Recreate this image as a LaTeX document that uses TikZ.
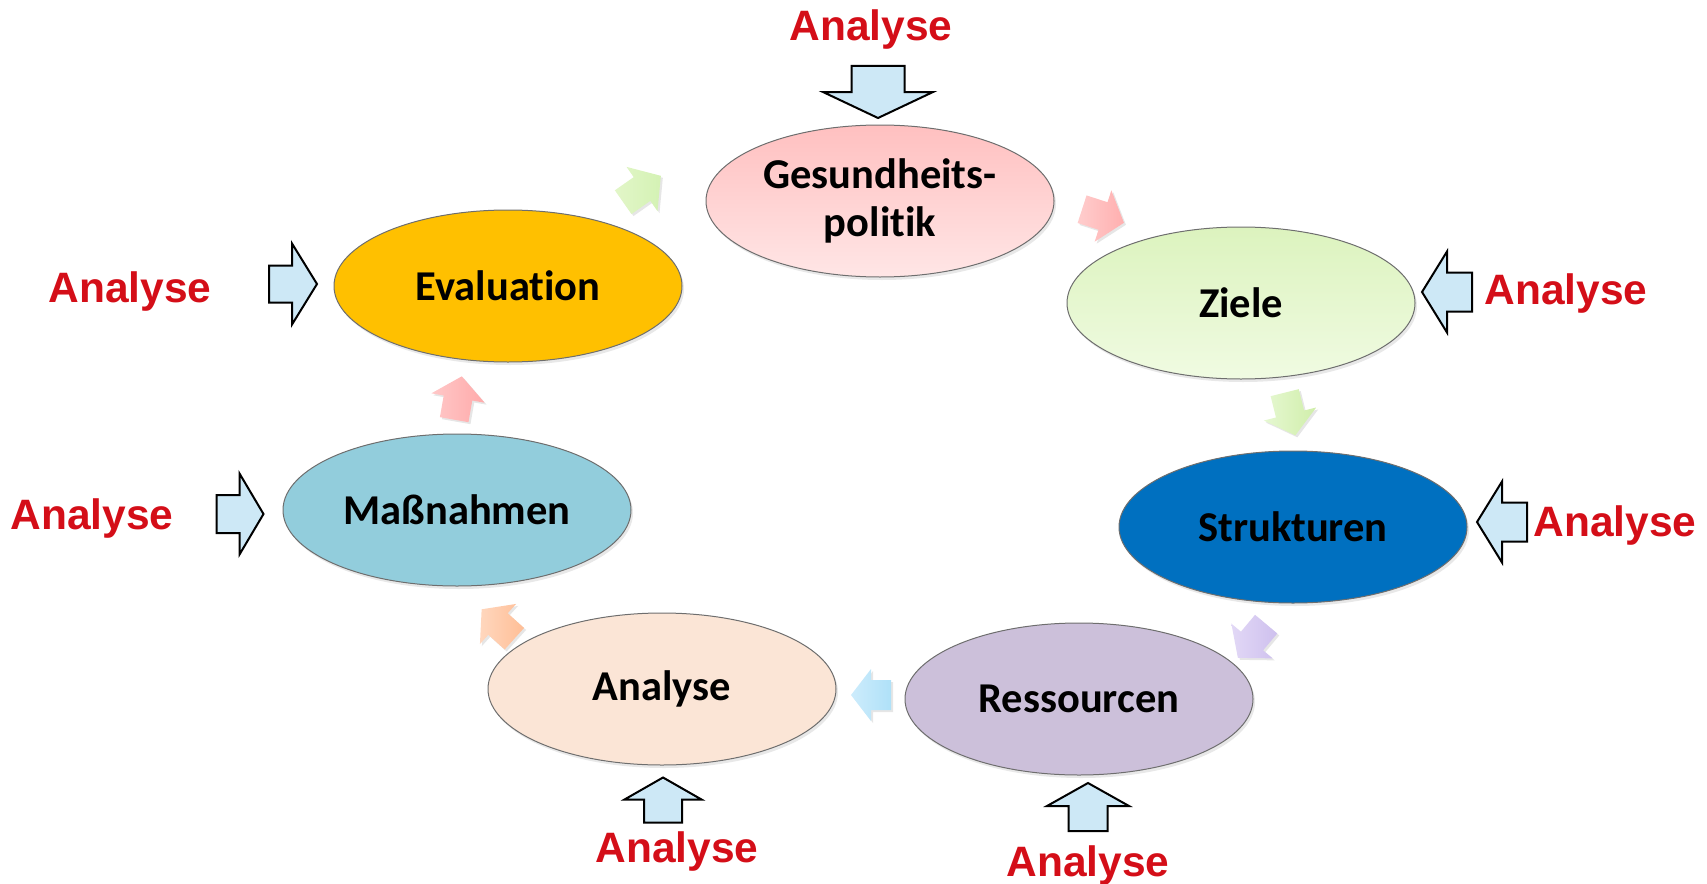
\documentclass[tikz,border=0pt]{standalone}
\usepackage{fontspec}
\newfontfamily\calib[Ligatures=NoCommon]{Carlito}
\newfontfamily\arl{Liberation Sans}
\usetikzlibrary{shapes.geometric,shadows}
\definecolor{lblred}{RGB}{212,14,24}
\definecolor{bigblue}{RGB}{205,232,246}
\definecolor{cEval}{RGB}{255,192,0}
\definecolor{cMass}{RGB}{146,205,220}
\definecolor{cStruk}{RGB}{0,112,192}
\definecolor{cRess}{RGB}{204,192,218}
\definecolor{cAna}{RGB}{251,229,214}
\definecolor{cGesA}{RGB}{255,192,192}
\definecolor{cGesB}{RGB}{255,230,230}
\definecolor{cZielA}{RGB}{220,243,190}
\definecolor{cZielB}{RGB}{240,251,226}
\definecolor{edgegray}{RGB}{110,110,110}
\newcommand{\blkarrow}[7]{%
  \begin{scope}[shift={#2},rotate=#3]
  \path[#1] (-#4/2,-#6/2) -- (#4/2-#7,-#6/2) -- (#4/2-#7,-#5/2) -- (#4/2,0)
     -- (#4/2-#7,#5/2) -- (#4/2-#7,#6/2) -- (-#4/2,#6/2) -- cycle;
  \end{scope}}
\tikzset{
  stage/.style={ellipse, draw=edgegray, line width=1pt, minimum width=348pt,
    minimum height=152pt, inner sep=0pt, align=center,
    font=\calib\bfseries\fontsize{42.5}{48}\selectfont,
    drop shadow={shadow xshift=2pt, shadow yshift=-3pt, opacity=0.18}},
  lbl/.style={font=\arl\bfseries\fontsize{42.5}{48}\selectfont, text=lblred,
    anchor=base, inner sep=0pt},
  bigarr/.style={fill=bigblue, draw=black, line width=2pt, line join=miter},
  smallarr/.style={drop shadow={shadow xshift=2pt, shadow yshift=-2pt, opacity=0.2}}
}
\begin{document}
\begin{tikzpicture}[x=1pt,y=1pt]
\useasboundingbox (0,0) rectangle (1707,-883);
% stages
\node[stage, top color=cGesA, bottom color=cGesB] (ges) at (880,-201) {Gesundheits-\\politik};
\node[stage, top color=cZielA, bottom color=cZielB] (ziele) at (1241,-303) {Ziele};
\node[stage, fill=cStruk] (struk) at (1293,-527) {Strukturen};
\node[stage, fill=cRess] (ress) at (1079,-699) {Ressourcen};
\node[stage, fill=cAna] (ana) at (662,-689) {Analyse};
\node[stage, fill=cMass] (mass) at (457,-510) {Maßnahmen};
\node[stage, fill=cEval] (eval) at (508,-286) {Evaluation};
% small cycle arrows
\blkarrow{smallarr, left color={rgb,255:red,226;green,246;blue,200}, right color={rgb,255:red,212;green,242;blue,180}}{(642,-189)}{35}{46}{54}{29}{23}
\blkarrow{smallarr, left color={rgb,255:red,255;green,205;blue,205}, right color={rgb,255:red,255;green,175;blue,175}}{(1103,-216)}{-18}{44}{54}{29}{22}
\blkarrow{smallarr, left color={rgb,255:red,230;green,248;blue,210}, right color={rgb,255:red,208;green,238;blue,170}}{(1290,-414)}{-76}{44}{54}{29}{22}
\blkarrow{smallarr, left color={rgb,255:red,226;green,216;blue,246}, right color={rgb,255:red,206;green,192;blue,238}}{(1252,-641)}{-130}{44}{54}{29}{22}
\blkarrow{smallarr, left color={rgb,255:red,205;green,236;blue,252}, right color={rgb,255:red,175;green,225;blue,248}}{(871,-695)}{180}{40}{52}{30}{20}
\blkarrow{smallarr, left color={rgb,255:red,255;green,215;blue,190}, right color={rgb,255:red,255;green,190;blue,150}}{(498,-624)}{138}{44}{54}{29}{22}
\blkarrow{smallarr, left color={rgb,255:red,255;green,200;blue,200}, right color={rgb,255:red,255;green,170;blue,170}}{(458,-398)}{80}{44}{54}{29}{22}
% big input arrows
\blkarrow{bigarr}{(878,-92)}{-90}{52}{110}{53}{26}
\blkarrow{bigarr}{(293,-284)}{0}{48}{81}{37}{25}
\blkarrow{bigarr}{(1447,-292)}{180}{50}{81}{39}{25}
\blkarrow{bigarr}{(240,-514)}{0}{47}{81}{38}{24}
\blkarrow{bigarr}{(1502,-522)}{180}{50}{81}{39}{25}
\blkarrow{bigarr}{(663,-800)}{90}{45}{77}{38}{22}
\blkarrow{bigarr}{(1088,-807)}{90}{48}{82}{39}{23}
% labels
\node[lbl] (lt) at (871,-41) {Analyse};
\node[lbl] (le) at (130,-302) {Analyse};
\node[lbl] (lz) at (1566,-304) {Analyse};
\node[lbl] (lm) at (92,-529) {Analyse};
\node[lbl] (ls) at (1615,-536) {Analyse};
\node[lbl] (la) at (677,-862) {Analyse};
\node[lbl] (lr) at (1088,-876) {Analyse};
\end{tikzpicture}
\end{document}
